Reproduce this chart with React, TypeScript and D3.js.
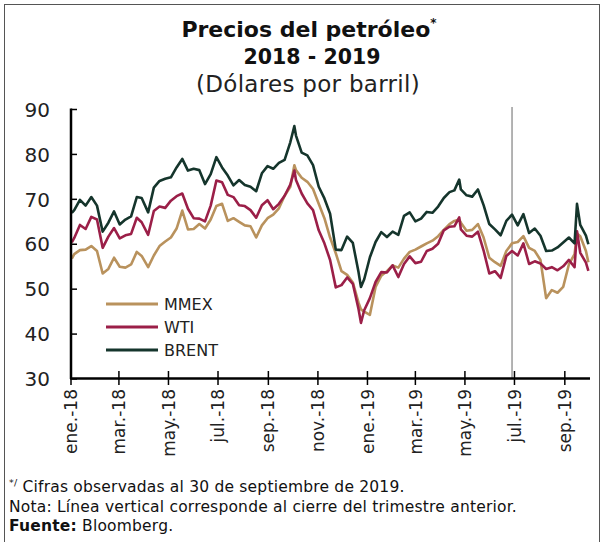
import React from "react";
import * as d3 from "d3";

const dates: string[] = [
  "2018-01-02","2018-01-05","2018-01-12","2018-01-19","2018-01-26","2018-02-02","2018-02-09","2018-02-16","2018-02-23",
  "2018-03-02","2018-03-09","2018-03-16","2018-03-23","2018-03-29","2018-04-06","2018-04-13","2018-04-20","2018-04-27",
  "2018-05-04","2018-05-11","2018-05-18","2018-05-25","2018-06-01","2018-06-08","2018-06-15","2018-06-22","2018-06-29",
  "2018-07-06","2018-07-13","2018-07-20","2018-07-27","2018-08-03","2018-08-10","2018-08-17","2018-08-24","2018-08-31",
  "2018-09-07","2018-09-14","2018-09-21","2018-09-28","2018-10-03","2018-10-05","2018-10-12","2018-10-19","2018-10-26",
  "2018-11-02","2018-11-09","2018-11-16","2018-11-23","2018-11-30","2018-12-07","2018-12-14","2018-12-21","2018-12-24",
  "2018-12-28","2019-01-04","2019-01-11","2019-01-18","2019-01-25","2019-02-01","2019-02-08","2019-02-15","2019-02-22",
  "2019-03-01","2019-03-08","2019-03-15","2019-03-22","2019-03-29","2019-04-05","2019-04-12","2019-04-18","2019-04-24",
  "2019-04-26","2019-05-03","2019-05-10","2019-05-17","2019-05-24","2019-05-31","2019-06-07","2019-06-14","2019-06-21",
  "2019-06-28","2019-07-05","2019-07-12","2019-07-19","2019-07-26","2019-08-02","2019-08-09","2019-08-16","2019-08-23",
  "2019-08-30","2019-09-06","2019-09-13","2019-09-16","2019-09-20","2019-09-27","2019-09-30",
];

const brent: number[] = [
  67.0,67.6,69.9,68.6,70.5,68.6,62.8,64.8,67.3,
  64.4,65.5,66.2,70.5,70.3,67.1,72.6,74.1,74.6,
  74.9,77.1,79.0,76.4,76.8,76.5,73.4,75.6,79.4,
  77.1,75.3,73.1,74.3,73.2,72.8,71.8,75.8,77.4,
  76.8,78.1,78.8,82.7,86.3,84.2,80.4,79.8,77.6,
  72.8,70.2,66.8,58.8,58.7,61.7,60.3,53.8,50.5,
  52.2,57.1,60.5,62.7,61.6,62.8,62.1,66.3,67.1,
  65.1,65.7,67.2,67.0,68.4,70.3,71.6,72.0,74.4,
  72.2,70.9,70.6,72.2,68.7,64.5,63.3,62.0,65.2,
  66.6,64.2,66.7,62.5,63.5,61.9,58.5,58.6,59.3,
  60.4,61.5,60.2,69.0,64.3,61.9,60.0,
];

const wti: number[] = [
  60.4,61.4,64.3,63.4,66.1,65.5,59.2,61.7,63.6,
  61.3,62.0,62.3,65.9,64.9,62.1,67.4,68.4,68.1,
  69.7,70.7,71.3,67.9,65.8,65.7,65.1,68.6,74.2,
  73.8,71.0,70.5,68.7,68.5,67.6,65.9,68.7,69.8,
  67.8,69.0,70.8,73.3,76.4,74.3,71.3,69.1,67.6,
  63.1,60.2,56.5,50.4,50.9,52.6,51.2,45.6,42.5,
  45.3,48.0,51.6,53.8,53.7,55.3,52.7,55.6,57.3,
  55.8,56.1,58.5,59.0,60.1,63.1,63.9,64.0,66.0,
  63.3,61.9,61.7,62.8,58.6,53.5,54.0,52.5,57.4,
  58.5,57.5,60.2,55.6,56.2,55.7,54.5,54.9,54.2,
  55.1,56.5,54.9,62.9,58.1,55.9,54.1,
];

const mmex: number[] = [
  56.8,57.8,58.7,58.8,59.6,58.5,53.5,54.5,57.0,
  55.0,54.8,55.5,58.3,57.4,54.9,57.5,59.6,60.6,
  61.5,63.5,67.5,63.3,63.4,64.5,63.5,65.5,68.5,
  69.0,65.2,65.8,65.0,64.2,64.0,61.5,64.2,65.8,
  66.6,68.0,70.8,72.8,77.6,76.5,74.8,73.9,72.3,
  69.0,65.8,61.5,58.0,54.0,53.2,51.5,47.0,45.5,
  45.0,44.3,50.5,53.0,54.0,55.3,54.8,56.8,58.3,
  58.8,59.5,60.2,60.8,61.8,63.2,64.5,65.2,65.5,
  64.8,63.0,63.2,64.5,61.5,57.0,56.0,55.2,58.5,
  60.2,60.5,61.8,59.2,58.5,56.5,48.0,49.8,49.2,
  50.5,55.5,57.8,62.4,61.8,58.5,56.0,
];

const tickDates: string[] = [
  "2018-01-01","2018-03-01","2018-05-01","2018-07-01","2018-09-01","2018-11-01",
  "2019-01-01","2019-03-01","2019-05-01","2019-07-01","2019-09-01",
];
const tickLabels: string[] = [
  "ene.-18","mar.-18","may.-18","jul.-18","sep.-18","nov.-18",
  "ene.-19","mar.-19","may.-19","jul.-19","sep.-19",
];
const yTicks: number[] = [30, 40, 50, 60, 70, 80, 90];
const seriesNames: string[] = ["MMEX", "WTI", "BRENT"];
const seriesColors: string[] = ["#b9925d", "#9b1f48", "#15352c"];
const quarterClose = "2019-06-28";

const FONT = "'DejaVu Sans', sans-serif";

export default function App() {
  const parse = d3.timeParse("%Y-%m-%d");
  const ds = dates.map((s) => parse(s) as Date);
  const x = d3
    .scaleTime()
    .domain([parse("2018-01-01") as Date, parse("2019-10-02") as Date])
    .range([71, 590]);
  const y = d3.scaleLinear().domain([30, 90]).range([379, 109.5]);
  const values = [mmex, wti, brent];
  const line = d3
    .line<number>()
    .x((_, i) => x(ds[i]))
    .y((v) => y(v));

  const vx = x(parse(quarterClose) as Date);

  return (
    <svg
      width={602}
      height={542}
      style={{ position: "absolute", left: 0, top: 0, background: "#fff" }}
      fontFamily={FONT}
    >
      <rect x={4.5} y={4.5} width={595} height={540} fill="#fff" stroke="#555" strokeWidth={1} />
      {/* Title */}
      <text x={309} y={37} textAnchor="middle" fontWeight="bold" fontSize={22} fill="#111">
        Precios del petróleo
        <tspan fontSize={12} dy={-10}>*</tspan>
      </text>
      <text x={312} y={64} textAnchor="middle" fontWeight="bold" fontSize={20.5} fill="#111">
        2018 - 2019
      </text>
      <text x={308} y={92} textAnchor="middle" fontSize={23} letterSpacing={0.3} fill="#222">
        (Dólares por barril)
      </text>

      {/* vertical line */}
      <line x1={vx} x2={vx} y1={107} y2={379} stroke="#8a8a8a" strokeWidth={1.3} />

      {/* series */}
      {values.map((vals, k) => (
        <path
          key={seriesNames[k]}
          d={line(vals) || ""}
          fill="none"
          stroke={seriesColors[k]}
          strokeWidth={2.6}
          strokeLinejoin="round"
        />
      ))}

      {/* y axis */}
      <line x1={71} x2={71} y1={y(90) - 1} y2={y(30)} stroke="#000" strokeWidth={2.5} />
      {yTicks.map((t) => (
        <g key={t}>
          <line x1={71} x2={77} y1={y(t)} y2={y(t)} stroke="#000" strokeWidth={1.5} />
          <text x={50} y={y(t)} dy="0.36em" textAnchor="end" fontSize={20} fill="#222">
            {t}
          </text>
        </g>
      ))}

      {/* x axis */}
      <line x1={70} x2={590} y1={378.5} y2={378.5} stroke="#000" strokeWidth={2.5} />
      {tickDates.map((t, i) => {
        const tx = x(parse(t) as Date);
        return (
          <g key={t}>
            <line x1={tx} x2={tx} y1={371} y2={385} stroke="#000" strokeWidth={1.5} />
            <text
              transform={`translate(${tx},389) rotate(-90)`}
              textAnchor="end"
              dy="0.36em"
              fontSize={17}
              fill="#222"
            >
              {tickLabels[i]}
            </text>
          </g>
        );
      })}

      {/* legend */}
      {seriesNames.map((n, k) => (
        <g key={n}>
          <line x1={106} x2={158} y1={304 + k * 23} y2={304 + k * 23} stroke={seriesColors[k]} strokeWidth={3} />
          <text x={164} y={304 + k * 23} dy="0.36em" fontSize={16} fill="#222">
            {n}
          </text>
        </g>
      ))}

      {/* footnotes */}
      <text x={9} y={492} fontSize={15.5} letterSpacing={0.2} fill="#111">
        <tspan fontSize={9.5} dy={-6}>*/</tspan>
        <tspan dy={6}> Cifras observadas al 30 de septiembre de 2019.</tspan>
      </text>
      <text x={9} y={512} fontSize={15.5} letterSpacing={0.2} fill="#111">
        Nota: Línea vertical corresponde al cierre del trimestre anterior.
      </text>
      <text x={9} y={531} fontSize={15.5} letterSpacing={0.2} fill="#111">
        <tspan fontWeight="bold">Fuente:</tspan> Bloomberg.
      </text>
    </svg>
  );
}
